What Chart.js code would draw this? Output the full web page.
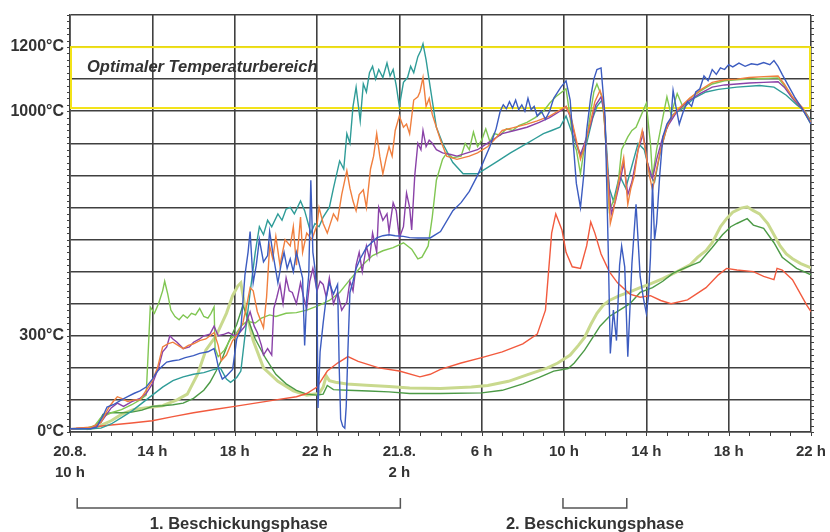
<!DOCTYPE html>
<html lang="de">
<head>
<meta charset="UTF-8">
<title>Temperaturverlauf</title>
<script src="https://cdn.jsdelivr.net/npm/chart.js"></script>
<style>
  body { margin: 0; background: #fff; }
  #wrap { width: 830px; height: 532px; }
</style>
</head>
<body>
<div id="wrap"><canvas id="chart" width="830" height="532"></canvas></div>
<script>
// x = Stunden ab 20.8. 10 h, y = Temperatur in °C
const xTickLabels = [['20.8.', '10 h'], '14 h', '18 h', '22 h', ['21.8.', '2 h'], '6 h', '10 h', '14 h', '18 h', '22 h'];
const yLabelValues = [0, 300, 1000, 1200];
const optimalRange = [1010, 1200];
const phases = [
  { label: '1. Beschickungsphase', from: 0.35, to: 16.05 },
  { label: '2. Beschickungsphase', from: 23.95, to: 27.05 }
];

const teal = [[0,10],[1,10],[1.5,12],[2,25],[2.5,45],[3,65],[3.5,90],[4,115],[4.5,140],[5,160],[5.5,172],[6,180],[6.5,185],[7,195],[7.3,200],[7.6,165],[7.8,155],[8.1,170],[8.3,190],[8.5,300],[8.75,435],[9,560],[9.2,640],[9.4,615],[9.6,660],[9.8,640],[10.1,680],[10.3,660],[10.5,695],[10.7,700],[10.9,680],[11.2,720],[11.4,690],[11.7,620],[11.9,650],[12.1,640],[12.3,670],[12.6,700],[12.8,760],[13.1,845],[13.3,820],[13.45,930],[13.6,900],[13.75,1015],[13.9,1075],[14.1,970],[14.25,1085],[14.4,1060],[14.55,1120],[14.7,1140],[14.85,1100],[15,1130],[15.2,1105],[15.4,1150],[15.55,1110],[15.7,1130],[15.85,1080],[16,1015],[16.2,1090],[16.4,1105],[16.55,1140],[16.7,1120],[16.9,1170],[17.05,1190],[17.15,1210],[17.3,1160],[17.5,1075],[17.8,950],[18.1,900],[18.6,840],[19.1,805],[19.8,805],[20.3,825],[20.8,845],[21.4,870],[21.8,885],[22.2,900],[22.6,915],[23,930],[23.4,940],[23.8,950],[24.1,985],[24.4,930],[24.8,860],[25.1,900],[25.4,980],[25.6,1015],[25.85,1035],[26,950],[26.2,760],[26.4,720],[26.7,800],[27,760],[27.3,830],[27.6,900],[27.9,880],[28.2,800],[28.4,780],[28.7,880],[29,950],[29.3,990],[29.8,1010],[30.3,1040],[30.9,1060],[31.5,1068],[32.4,1075],[33.5,1080],[34.2,1075],[34.8,1050],[35.3,1020],[35.7,1000],[36,970]];

const orange = [[0,10],[0.5,12],[1,14],[1.5,30],[1.9,78],[2.1,95],[2.3,110],[2.5,105],[2.8,95],[3.1,100],[3.4,100],[3.7,130],[4,160],[4.25,200],[4.5,265],[4.75,275],[5,280],[5.25,270],[5.5,260],[5.75,270],[6,275],[6.3,285],[6.6,290],[6.8,300],[7,310],[7.2,270],[7.35,222],[7.6,240],[7.9,285],[8.1,300],[8.4,340],[8.6,400],[8.75,450],[8.9,440],[9.1,375],[9.25,350],[9.4,325],[9.55,420],[9.7,580],[9.85,540],[10,610],[10.2,520],[10.45,600],[10.7,580],[10.85,640],[11,520],[11.2,670],[11.3,560],[11.5,620],[11.75,600],[12,645],[12.1,700],[12.3,650],[12.5,620],[12.8,680],[13,660],[13.2,740],[13.45,815],[13.6,760],[13.75,720],[13.9,690],[14.05,740],[14.25,755],[14.4,700],[14.6,820],[14.75,860],[14.9,930],[15.05,860],[15.2,805],[15.35,850],[15.5,890],[15.65,860],[15.8,940],[16,985],[16.2,950],[16.35,960],[16.5,930],[16.7,1035],[16.9,1045],[17,1060],[17.15,1105],[17.3,1015],[17.45,1040],[17.6,990],[17.8,950],[18,910],[18.3,860],[18.8,850],[19.4,860],[19.8,870],[20.3,890],[20.6,910],[21,940],[21.5,948],[22.2,960],[22.7,970],[23.3,985],[23.7,1000],[24.1,1015],[24.35,980],[24.6,910],[24.8,850],[25,890],[25.3,970],[25.5,1030],[25.75,1065],[25.9,1035],[26.1,825],[26.25,650],[26.4,690],[26.6,760],[26.7,795],[26.9,855],[27.1,710],[27.25,760],[27.4,795],[27.6,880],[27.8,940],[28,860],[28.15,800],[28.3,755],[28.5,820],[28.7,880],[29,950],[29.2,980],[29.6,1010],[30.1,1040],[30.6,1065],[31.2,1090],[31.8,1098],[32.4,1100],[33,1105],[33.7,1108],[34.4,1110],[34.7,1085],[35.1,1045],[35.6,1010],[36,965]];

const purple = [[0,10],[1,12],[1.5,30],[2,75],[2.3,90],[2.6,80],[3,95],[3.4,105],[3.7,120],[4,150],[4.3,200],[4.5,250],[4.7,265],[4.85,300],[5,290],[5.2,280],[5.5,260],[5.8,265],[6,280],[6.3,290],[6.5,300],[6.8,305],[7,330],[7.2,300],[7.5,305],[7.7,310],[8,300],[8.25,310],[8.5,330],[8.75,375],[8.95,330],[9.1,310],[9.3,270],[9.4,240],[9.6,260],[9.8,240],[9.9,385],[10.05,420],[10.2,460],[10.35,400],[10.5,480],[10.65,440],[10.8,435],[11,400],[11.2,465],[11.35,420],[11.5,385],[11.65,470],[11.8,510],[12,440],[12.15,470],[12.3,460],[12.45,420],[12.6,480],[12.8,400],[13,435],[13.2,380],[13.45,405],[13.6,470],[13.75,440],[13.9,520],[14.05,560],[14.2,500],[14.4,580],[14.55,540],[14.7,620],[14.9,560],[15,700],[15.2,660],[15.4,680],[15.5,625],[15.7,715],[15.85,690],[16,605],[16.2,640],[16.35,745],[16.5,700],[16.6,630],[16.75,800],[16.9,900],[17.05,880],[17.15,940],[17.3,890],[17.45,910],[17.6,900],[17.8,880],[18.1,870],[18.5,865],[18.8,860],[19.3,870],[19.8,880],[20.4,905],[21,930],[21.6,940],[22.2,950],[22.8,965],[23.3,980],[23.8,1000],[24.1,1015],[24.35,975],[24.6,900],[24.8,865],[25,900],[25.3,960],[25.55,1020],[25.8,1045],[25.95,1000],[26.1,830],[26.3,680],[26.5,720],[26.75,790],[26.9,840],[27.1,740],[27.3,780],[27.6,880],[27.85,930],[28.05,840],[28.3,790],[28.5,850],[28.8,920],[29.1,960],[29.5,1000],[30,1030],[30.6,1055],[31.2,1075],[31.8,1082],[32.4,1085],[33,1088],[33.7,1090],[34.4,1092],[34.7,1075],[35.1,1040],[35.6,1005],[36,965]];

const blue = [[0,10],[1,10],[1.3,15],[1.6,50],[1.8,78],[2.1,85],[2.5,100],[2.8,110],[3.1,120],[3.4,128],[3.7,140],[4,165],[4.2,185],[4.4,200],[4.7,218],[5,222],[5.3,225],[5.6,232],[6,238],[6.3,245],[6.7,250],[7,260],[7.1,235],[7.25,190],[7.4,165],[7.6,175],[7.9,195],[8.1,290],[8.3,320],[8.5,490],[8.65,560],[8.75,625],[8.9,465],[9.05,520],[9.2,600],[9.4,530],[9.6,550],[9.7,625],[9.85,560],[10.1,465],[10.25,520],[10.4,560],[10.55,510],[10.7,540],[10.85,500],[11,560],[11.15,520],[11.3,480],[11.4,270],[11.5,420],[11.6,490],[11.7,785],[11.8,560],[11.9,510],[12,430],[12.05,75],[12.15,250],[12.3,340],[12.45,420],[12.6,465],[12.8,430],[13,460],[13.08,200],[13.15,40],[13.25,18],[13.35,12],[13.42,80],[13.5,250],[13.6,435],[13.75,470],[13.9,510],[14.1,540],[14.4,575],[14.65,590],[14.9,605],[15.2,612],[15.5,615],[15.8,612],[16.2,610],[16.5,606],[16.9,605],[17.5,605],[18,625],[18.6,690],[19,715],[19.4,750],[19.8,800],[20.1,845],[20.4,890],[20.7,945],[20.9,1000],[21.05,1020],[21.2,1008],[21.35,1030],[21.5,1010],[21.65,1035],[21.8,1005],[21.95,1020],[22.1,1000],[22.25,1040],[22.4,1005],[22.55,1015],[22.7,985],[22.9,1000],[23.1,975],[23.3,1000],[23.5,1040],[23.7,1060],[23.85,1075],[24.1,1095],[24.3,1035],[24.45,900],[24.6,775],[24.8,700],[24.95,795],[25.1,940],[25.3,1045],[25.45,1100],[25.6,1130],[25.8,1135],[26,980],[26.15,565],[26.25,245],[26.4,380],[26.55,285],[26.7,520],[26.8,580],[26.95,515],[27.1,235],[27.3,525],[27.5,710],[27.7,485],[27.85,420],[28,370],[28.1,420],[28.2,545],[28.3,775],[28.4,600],[28.5,650],[28.65,800],[28.8,920],[29,960],[29.2,980],[29.3,1065],[29.45,1010],[29.6,960],[29.8,1000],[30,1030],[30.2,1015],[30.4,1060],[30.6,1070],[30.8,1110],[31,1095],[31.2,1130],[31.4,1115],[31.6,1135],[31.8,1130],[32,1145],[32.2,1138],[32.5,1150],[32.8,1140],[33.1,1148],[33.4,1145],[33.7,1152],[34,1145],[34.2,1158],[34.4,1140],[34.6,1115],[34.9,1080],[35.2,1045],[35.6,1005],[36,960]];

const lightGreen = [[0,10],[0.8,12],[1.2,20],[1.5,45],[2,60],[2.5,70],[3,85],[3.4,100],[3.7,115],[3.8,250],[3.9,390],[4.1,370],[4.3,400],[4.5,440],[4.6,470],[4.75,430],[4.9,380],[5.1,360],[5.3,350],[5.5,365],[5.7,355],[5.9,370],[6.1,365],[6.3,385],[6.5,360],[6.7,355],[6.85,370],[7,390],[7.05,260],[7.2,235],[7.5,255],[7.8,290],[8,300],[8.3,330],[8.6,345],[9,340],[9.3,355],[9.7,365],[10,360],[10.5,370],[11,372],[11.5,380],[12.1,395],[12.6,410],[13.1,435],[13.6,475],[14.2,520],[14.7,550],[15.2,565],[15.7,575],[16.2,590],[16.6,570],[16.9,540],[17.1,545],[17.4,580],[17.6,670],[17.8,785],[18.1,850],[18.3,870],[18.6,855],[19,860],[19.2,900],[19.4,880],[19.6,935],[19.8,890],[20,910],[20.2,945],[20.4,905],[20.6,930],[20.9,925],[21.2,945],[21.5,940],[21.8,955],[22.2,965],[22.6,980],[23,1000],[23.3,1025],[23.6,1045],[23.9,1060],[24.1,1070],[24.3,980],[24.45,900],[24.6,880],[24.8,805],[24.95,870],[25.1,910],[25.3,1000],[25.45,1060],[25.6,1085],[25.75,1060],[25.9,1035],[26.05,880],[26.2,690],[26.4,720],[26.6,755],[26.8,880],[27.1,920],[27.3,940],[27.5,950],[27.7,980],[28,1025],[28.1,960],[28.2,900],[28.3,795],[28.5,880],[28.8,980],[29,1045],[29.2,990],[29.5,1055],[29.8,1010],[30.1,1040],[30.6,1062],[31.2,1085],[31.8,1095],[32.4,1098],[33,1100],[33.7,1102],[34.4,1104],[34.7,1080],[35.1,1040],[35.6,1005],[36,960]];

const red = [[0.3,12],[1,15],[2,22],[3,28],[4,35],[5,48],[6,60],[7,70],[8,80],[9,90],[10,100],[11,110],[11.5,120],[12,140],[12.5,190],[13,215],[13.5,235],[14,220],[15,200],[16,190],[17,172],[17.5,180],[18,195],[19,215],[20,232],[21,250],[22,275],[22.7,305],[23.1,380],[23.4,620],[23.6,680],[23.9,630],[24.1,560],[24.4,515],[24.8,510],[25.1,580],[25.3,655],[25.5,620],[25.8,555],[26.2,500],[26.6,465],[27.2,430],[27.7,420],[28.2,425],[28.7,410],[29.2,400],[30,412],[30.9,450],[31.5,490],[31.9,510],[32.4,505],[33.2,500],[33.7,485],[34.2,475],[34.35,510],[34.6,505],[35.1,475],[35.8,395],[36,375]];

const olive = [[0.8,10],[1.3,15],[2,35],[2.5,55],[3.1,70],[4,78],[4.5,82],[5.2,100],[5.7,118],[6.2,180],[6.6,255],[7.1,300],[7.6,370],[7.9,425],[8.15,455],[8.3,465],[8.5,390],[8.9,285],[9.4,200],[10.1,158],[10.85,128],[11.5,115],[12.1,120],[12.3,140],[12.45,175],[12.6,160],[12.9,155],[13.45,150],[14.4,146],[15.5,142],[16.5,137],[18,136],[19.5,140],[20.3,145],[21.3,158],[22.2,178],[23.2,200],[23.7,215],[24.3,240],[24.7,270],[25,295],[25.3,335],[25.6,370],[25.9,395],[26.2,410],[26.7,425],[27.2,437],[27.7,450],[28.2,462],[28.8,478],[29.5,500],[30.1,520],[30.5,545],[30.9,565],[31.2,590],[31.6,640],[31.9,665],[32.2,685],[32.6,698],[32.9,702],[33.2,690],[33.5,680],[33.9,650],[34.2,615],[34.5,580],[34.8,555],[35.1,540],[35.5,525],[36,512]];

const darkGreen = [[0,10],[1,10],[1.3,20],[1.6,55],[2,60],[2.5,60],[3,62],[3.5,68],[4,80],[4.5,82],[5,85],[5.5,90],[6,105],[6.5,130],[6.8,155],[7.1,190],[7.4,230],[7.7,280],[8.1,335],[8.4,395],[8.6,360],[9,290],[9.5,230],[10,180],[10.5,150],[11,130],[11.5,118],[12,115],[12.3,118],[12.5,145],[12.8,132],[13.5,130],[14.5,128],[15.5,125],[16.5,120],[18,120],[20,122],[21,130],[22,150],[22.8,170],[23.5,190],[24.2,198],[24.5,215],[25,255],[25.4,295],[25.75,330],[26.2,360],[26.7,380],[27.2,400],[27.7,435],[28.3,450],[28.8,470],[29.3,495],[30,515],[30.6,530],[31.2,575],[31.7,615],[32.1,640],[32.4,650],[32.9,665],[33.2,645],[33.7,635],[34.2,590],[34.6,545],[35.3,510],[36,490]];

const FONT = '"Liberation Sans", Arial, sans-serif';
const TEXT = '#333333';
const GRID = '#404040';

function pts(arr) { return arr.map(p => ({ x: p[0], y: p[1] })); }
function line(arr, color, width) {
  return { data: pts(arr), borderColor: color, borderWidth: width || 1.4, pointRadius: 0, tension: 0, fill: false };
}

// gelber Kasten, kleine Teilstriche, Klammern unten
const extras = {
  id: 'extras',
  beforeDatasetsDraw(chart) {
    const { ctx, chartArea: a, scales: { y } } = chart;
    const top = y.getPixelForValue(optimalRange[1]);
    const bot = y.getPixelForValue(optimalRange[0]);
    ctx.save();
    ctx.strokeStyle = '#f3e318';
    ctx.lineWidth = 2;
    ctx.strokeRect(a.left + 1, top, a.right - a.left - 2, bot - top);
    ctx.fillStyle = TEXT;
    ctx.font = 'italic bold 16.5px ' + FONT;
    ctx.textBaseline = 'middle';
    ctx.fillText('Optimaler Temperaturbereich', a.left + 17, (top + y.getPixelForValue(1100)) / 2 + 4);
    ctx.restore();
  },
  afterDraw(chart) {
    const { ctx, chartArea: a, scales: { x, y } } = chart;
    ctx.save();
    ctx.strokeStyle = GRID;
    ctx.lineWidth = 1;
    ctx.beginPath();
    for (let t = 0; t <= 1300; t += 20) {
      const py = Math.round(y.getPixelForValue(t)) + 0.5;
      ctx.moveTo(a.left - 3, py); ctx.lineTo(a.left, py);
      ctx.moveTo(a.right, py); ctx.lineTo(a.right + 3, py);
    }
    for (let h = 0; h <= 36; h++) {
      const px = Math.round(x.getPixelForValue(h)) + 0.5;
      ctx.moveTo(px, a.bottom); ctx.lineTo(px, a.bottom + 4);
    }
    ctx.stroke();

    ctx.strokeStyle = '#555';
    ctx.lineWidth = 1.5;
    ctx.fillStyle = TEXT;
    ctx.font = 'bold 16.5px ' + FONT;
    ctx.textAlign = 'center';
    ctx.textBaseline = 'middle';
    phases.forEach(p => {
      const x1 = x.getPixelForValue(p.from), x2 = x.getPixelForValue(p.to);
      ctx.beginPath();
      ctx.moveTo(x1, 498); ctx.lineTo(x1, 508); ctx.lineTo(x2, 508); ctx.lineTo(x2, 498);
      ctx.stroke();
      ctx.fillText(p.label, (x1 + x2) / 2, 524);
    });
    ctx.restore();
  }
};

new Chart(document.getElementById('chart'), {
  type: 'line',
  data: {
    datasets: [
      line(blue, '#3c5cc0'),
      line(orange, '#f07f3e'),
      line(purple, '#8a42a8'),
      line(lightGreen, '#80c652'),
      line(teal, '#2f9c98'),
      line(red, '#f25a3e'),
      line(darkGreen, '#4c9a46'),
      line(olive, '#c9d98e', 3)
    ]
  },
  options: {
    responsive: false,
    animation: false,
    devicePixelRatio: 1,
    layout: { padding: { left: 0, top: 15, right: 19, bottom: 0 } },
    plugins: { legend: { display: false }, tooltip: { enabled: false } },
    scales: {
      x: {
        type: 'linear', min: 0, max: 36,
        afterFit: s => { s.height = 100; s.paddingLeft = 0; s.paddingRight = 0; },
        afterBuildTicks: s => { s.ticks = xTickLabels.map((l, i) => ({ value: i * 4 })); },
        ticks: {
          autoSkip: false, maxRotation: 0, padding: 9,
          color: TEXT, font: { family: FONT, size: 15, weight: 'bold', lineHeight: 1.4 },
          callback: (v) => xTickLabels[Math.round(v / 4)]
        },
        grid: { color: GRID, lineWidth: 1.6, drawTicks: false },
        border: { color: GRID, width: 1.6 }
      },
      y: {
        min: 0, max: 1300,
        afterFit: s => { s.width = 70; s.paddingTop = 0; s.paddingBottom = 0; },
        ticks: {
          stepSize: 100, autoSkip: false, padding: 6,
          color: TEXT, font: { family: FONT, size: 16, weight: 'bold' },
          callback: v => yLabelValues.includes(v) ? v + '°C' : ''
        },
        grid: { color: GRID, lineWidth: 1.6, drawTicks: false },
        border: { color: GRID, width: 1.6 }
      }
    }
  },
  plugins: [extras]
});
</script>
</body>
</html>
